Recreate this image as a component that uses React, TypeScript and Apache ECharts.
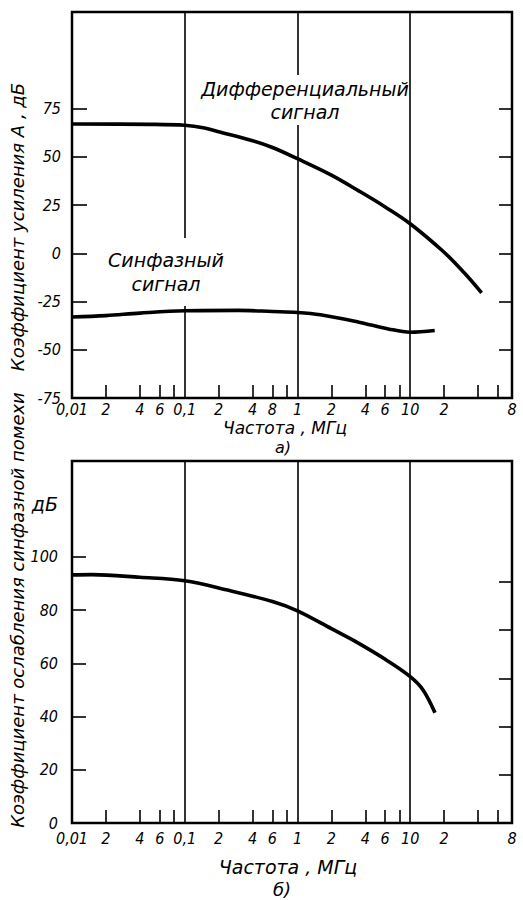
import React, { useEffect, useRef } from "react";
import * as echarts from "echarts";

// ---- data ----
// Top chart (a): gain, dB vs frequency, MHz
const diffFreq = [0.01, 0.05, 0.1, 0.15, 0.2, 0.4, 0.6, 1, 2, 3.5, 6, 10, 20, 30, 43];
const diffGain = [67, 66.8, 66.3, 64.9, 63, 58.3, 54.8, 49, 40.5, 32.3, 24, 15.3, 0.5, -10, -20.5];
const cmFreq = [0.01, 0.02, 0.04, 0.1, 0.3, 0.6, 1, 1.6, 3.5, 6.4, 10, 16.5];
const cmGain = [-33, -32.3, -31, -29.8, -29.6, -30.2, -30.7, -31.9, -35.7, -39.2, -40.9, -40];
// Bottom chart (b): CMRR, dB vs frequency, MHz
const cmrrFreq = [0.01, 0.015, 0.04, 0.1, 0.24, 0.6, 1, 2, 3.2, 6, 10, 13, 16.6];
const cmrrVal = [93.2, 93.3, 92.3, 91, 87.5, 83.2, 79.7, 73, 68.4, 61.5, 55, 50, 41.4];

// ---- axis ticks / labels ----
const freqMin = 0.01;
const freqMax = 80;
const freqLabelValues = [0.01, 0.02, 0.04, 0.06, 0.1, 0.2, 0.4, 0.6, 1, 2, 4, 6, 10, 20, 80];
const freqLabelsTop = ["0,01", "2", "4", "6", "0,1", "2", "4", "8", "1", "2", "4", "6", "10", "2", "8"];
const freqLabelsBottom = ["0,01", "2", "4", "6", "0,1", "2", "4", "6", "1", "2", "4", "6", "10", "2", "8"];
const freqMinorTicks = [0.02, 0.04, 0.06, 0.08, 0.2, 0.4, 0.6, 0.8, 2, 4, 6, 8, 20, 40, 60];
const decadeLines = [0.1, 1, 10];

const gainMin = -75;
const gainMax = 125;
const gainLabelValues = [-75, -50, -25, 0, 25, 50, 75];
const gainTickValues = [-50, -25, 0, 25, 50, 75];

const cmrrMin = 0;
const cmrrMax = 136;
const cmrrLabelValues = [0, 20, 40, 60, 80, 100, 120];
const cmrrLabels = ["0", "20", "40", "60", "80", "100", "{u|дБ}"];
const cmrrTickValues = [20, 40, 60, 80, 100];
const cmrrRightTickValues = [18, 36.1, 54.1, 72.6, 90.6];

const FONT = "'DejaVu Sans', sans-serif";
const NUMFONT = "'DejaVu Sans Condensed', 'DejaVu Sans', sans-serif";

function pairs(xs: number[], ys: number[]) {
  return xs.map((x, i) => [x, ys[i]]);
}

function labelFor(values: number[], labels: string[]) {
  return (v: number) => {
    for (let i = 0; i < values.length; i++) {
      if (Math.abs(Math.log10(v) - Math.log10(values[i])) < 1e-6) return labels[i];
    }
    return "";
  };
}

function labelForLinear(values: number[], labels: string[]) {
  return (v: number) => {
    for (let i = 0; i < values.length; i++) {
      if (Math.abs(v - values[i]) < 1e-6) return labels[i];
    }
    return "";
  };
}

const numLabel = {
  color: "#000",
  fontSize: 16,
  fontStyle: "italic" as const,
  fontFamily: NUMFONT,
};

function xAxisFor(gridIndex: number, labels: string[], margin: number) {
  return {
    gridIndex,
    type: "log",
    logBase: 10,
    min: freqMin,
    max: freqMax,
    axisLine: { show: false, onZero: false },
    splitLine: { show: false },
    minorTick: { show: false },
    axisTick: {
      show: true,
      inside: true,
      length: 13,
      lineStyle: { color: "#000", width: 1.6 },
      customValues: freqMinorTicks,
    },
    axisLabel: {
      ...numLabel,
      margin,
      customValues: freqLabelValues,
      formatter: labelFor(freqLabelValues, labels),
    },
  };
}

const lineSeries = (xAxisIndex: number, yAxisIndex: number, data: number[][], withLines: boolean) => ({
  type: "line",
  xAxisIndex,
  yAxisIndex,
  data,
  smooth: 0.35,
  symbol: "none",
  lineStyle: { color: "#000", width: 3.6 },
  z: 3,
  markLine: withLines
    ? {
        silent: true,
        symbol: ["none", "none"],
        label: { show: false },
        lineStyle: { color: "#000", width: 1.6, type: "solid" },
        data: decadeLines.map((v) => ({ xAxis: v })),
      }
    : undefined,
});

const textStyleBase = {
  fill: "#000",
  fontStyle: "italic",
  fontFamily: FONT,
};

const centered = { align: "center", verticalAlign: "middle", textAlign: "center", textVerticalAlign: "middle" };

export default function App() {
  const ref = useRef<HTMLDivElement>(null);
  useEffect(() => {
    if (!ref.current) return;
    const chart = echarts.init(ref.current, undefined, { renderer: "svg" });
    const option: any = {
      animation: false,
      backgroundColor: "#fff",
      grid: [
        { left: 72, top: 12, width: 440, height: 386, show: true, borderColor: "#000", borderWidth: 2.5, backgroundColor: "transparent" },
        { left: 72, top: 461, width: 440, height: 362, show: true, borderColor: "#000", borderWidth: 2.5, backgroundColor: "transparent" },
      ],
      xAxis: [xAxisFor(0, freqLabelsTop, 3), xAxisFor(1, freqLabelsBottom, 7)],
      yAxis: [
        {
          gridIndex: 0,
          type: "value",
          min: gainMin,
          max: gainMax,
          interval: 25,
          axisLine: { show: false, onZero: false },
          splitLine: { show: false },
          axisTick: { show: true, inside: true, length: 15, lineStyle: { color: "#000", width: 1.6 }, customValues: gainTickValues },
          axisLabel: { ...numLabel, margin: 11, customValues: gainLabelValues },
        },
        {
          gridIndex: 0,
          type: "value",
          position: "right",
          min: gainMin,
          max: gainMax,
          interval: 25,
          axisLine: { show: false, onZero: false },
          splitLine: { show: false },
          axisTick: { show: true, inside: true, length: 13, lineStyle: { color: "#000", width: 1.6 }, customValues: gainTickValues },
          axisLabel: { show: false },
        },
        {
          gridIndex: 1,
          type: "value",
          min: cmrrMin,
          max: cmrrMax,
          axisLine: { show: false, onZero: false },
          splitLine: { show: false },
          axisTick: { show: true, inside: true, length: 14, lineStyle: { color: "#000", width: 1.6 }, customValues: cmrrTickValues },
          axisLabel: {
            ...numLabel,
            margin: 14,
            customValues: cmrrLabelValues,
            formatter: labelForLinear(cmrrLabelValues, cmrrLabels),
            rich: { u: { fontSize: 19, fontStyle: "italic", fontFamily: FONT, color: "#000" } },
          },
        },
        {
          gridIndex: 1,
          type: "value",
          position: "right",
          min: cmrrMin,
          max: cmrrMax,
          axisLine: { show: false, onZero: false },
          splitLine: { show: false },
          axisTick: { show: true, inside: true, length: 13, lineStyle: { color: "#000", width: 1.6 }, customValues: cmrrRightTickValues },
          axisLabel: { show: false },
        },
      ],
      series: [
        lineSeries(0, 0, pairs(diffFreq, diffGain), true),
        lineSeries(0, 0, pairs(cmFreq, cmGain), false),
        lineSeries(1, 2, pairs(cmrrFreq, cmrrVal), true),
      ],
      graphic: [
        {
          type: "text",
          x: 17,
          y: 227,
          rotation: Math.PI / 2,
          z: 50,
          style: { ...textStyleBase, ...centered, text: "Коэффициент усиления А , дБ", fontSize: 18 },
        },
        {
          type: "text",
          x: 17,
          y: 610,
          rotation: Math.PI / 2,
          z: 50,
          style: { ...textStyleBase, ...centered, text: "Коэффициент ослабления синфазной помехи", fontSize: 18 },
        },
        {
          type: "text",
          x: 305,
          y: 100,
          z: 50,
          style: {
            ...textStyleBase,
            ...centered,
            text: "Дифференциальный\nсигнал",
            fontSize: 19,
            lineHeight: 23,
            backgroundColor: "#fff",
            padding: [3, 0, 1, 0],
          },
        },
        {
          type: "text",
          x: 166,
          y: 272,
          z: 50,
          style: {
            ...textStyleBase,
            ...centered,
            text: "Синфазный\nсигнал",
            fontSize: 19,
            lineHeight: 24,
            backgroundColor: "#fff",
            padding: [20, 0, 0, 0],
          },
        },
        {
          type: "text",
          x: 285,
          y: 428,
          z: 50,
          style: { ...textStyleBase, ...centered, text: "Частота , МГц", fontSize: 17 },
        },
        {
          type: "text",
          x: 283,
          y: 447,
          z: 50,
          style: { ...textStyleBase, ...centered, text: "а)", fontSize: 16 },
        },
        {
          type: "text",
          x: 288,
          y: 867,
          z: 50,
          style: { ...textStyleBase, ...centered, text: "Частота , МГц", fontSize: 19 },
        },
        {
          type: "text",
          x: 282,
          y: 889,
          z: 50,
          style: { ...textStyleBase, ...centered, text: "б)", fontSize: 18 },
        },
      ],
    };
    chart.setOption(option);
    return () => chart.dispose();
  }, []);
  return (
    <div
      ref={ref}
      style={{ position: "fixed", left: 0, top: 0, width: 523, height: 900, background: "#fff" }}
    />
  );
}
